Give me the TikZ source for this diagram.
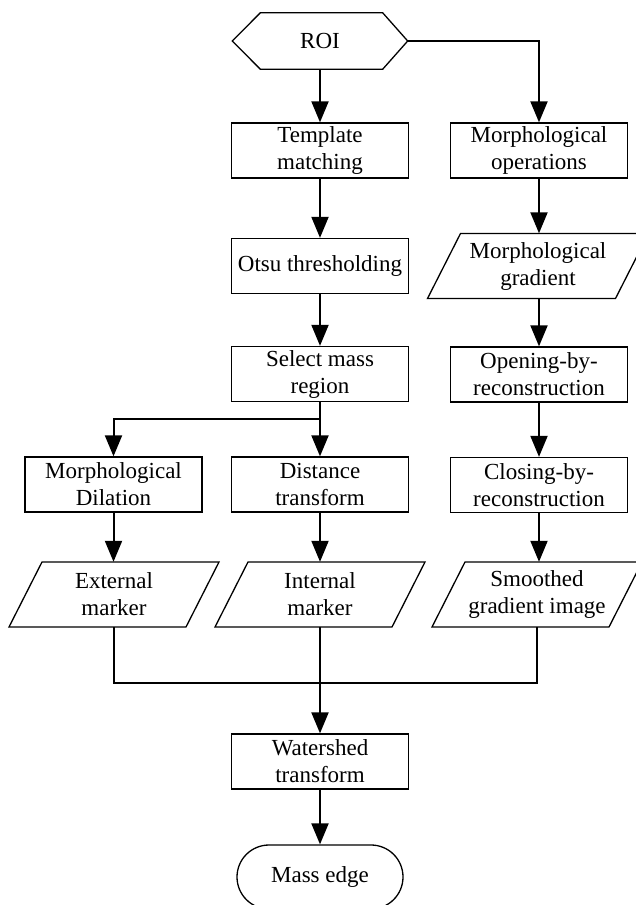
\documentclass[tikz,border=0pt]{standalone}
\usepackage{fontspec}
\setmainfont{Liberation Serif}
\usetikzlibrary{arrows.meta,calc}
\newcommand\parashape[3]{%
  \draw[border] ($(#1.center)+({-#2-#3/2},32.5)$) -- ($(#1.center)+({#2-#3/2},32.5)$)
    -- ($(#1.center)+({#2+#3/2},-32.5)$) -- ($(#1.center)+({-#2+#3/2},-32.5)$) -- cycle;}
\begin{document}
\begin{tikzpicture}[x=1pt,y=-1pt,
  border/.style={line width=1.3pt},
  txt/.style={font=\fontsize{23}{27}\selectfont, align=center, inner sep=0pt},
  box/.style={txt, draw, border, minimum width=177pt, minimum height=55pt},
  para/.style={txt, minimum width=177pt, minimum height=65pt},
  conn/.style={line width=2pt, -{Triangle[length=21pt,width=17pt]}},
  link/.style={line width=2pt}]
\useasboundingbox (0,0) rectangle (635,905);
% nodes
\node[txt, minimum width=175pt, minimum height=56pt] (roi) at (320,41) {ROI};
\draw[border] (roi.west) -- ($(roi.north west)+(28,0)$) -- ($(roi.north east)+(-25,0)$)
  -- (roi.east) -- ($(roi.south east)+(-25,0)$) -- ($(roi.south west)+(28,0)$) -- cycle;
\node[box] (tm) at (320,150.5) {Template\\matching};
\node[box] (otsu) at (320,266) {Otsu thresholding};
\node[box] (sel) at (320,374) {Select mass\\region};
\node[box] (md) at (113.5,484.5) {Morphological\\Dilation};
\node[box] (dt) at (320,484.5) {Distance\\transform};
\node[para] (em) at (114,594.5) {External\\marker};
\parashape{em}{88.5}{33}
\node[para] (im) at (320,594.5) {Internal\\marker};
\parashape{im}{88.5}{33}
\node[box] (mo) at (539,150.5) {Morphological\\operations};
\node[para] (mg) at (538,266) {Morphological\\gradient};
\parashape{mg}{94}{33}
\node[box] (ob) at (539,374.5) {Opening-by-\\reconstruction};
\node[box] (cb) at (539,485) {Closing-by-\\reconstruction};
\node[para] (sg) at (537,594.5) {Smoothed\\gradient image};
\parashape{sg}{88.5}{33}
\node[box] (ws) at (320,761.5) {Watershed\\transform};
\node[txt, draw, border, minimum width=166pt, minimum height=64pt, rounded corners=32pt] (me) at (320,877) {Mass edge};
% connectors
\coordinate (sp) at (320,419);
\draw[conn] (roi) -- (tm);
\draw[conn] (roi.east) -| (mo.north);
\draw[conn] (tm) -- (otsu);
\draw[conn] (otsu) -- (sel);
\draw[conn] (sel) -- (dt);
\draw[conn] (sp) -| (md.north);
\draw[conn] (md.south) -- (md.south |- em.north);
\draw[conn] (dt) -- (im);
\draw[conn] (mo.south) -- (mo.south |- mg.north);
\draw[conn] (ob.north |- mg.south) -- (ob.north);
\draw[conn] (ob) -- (cb);
\draw[conn] (cb.south) -- (cb.south |- sg.north);
\draw[link] (em.south) -- ++(0,55.5) -| (sg.south);
\draw[conn] (im) -- (ws);
\draw[conn] (ws) -- (me);
\end{tikzpicture}
\end{document}
